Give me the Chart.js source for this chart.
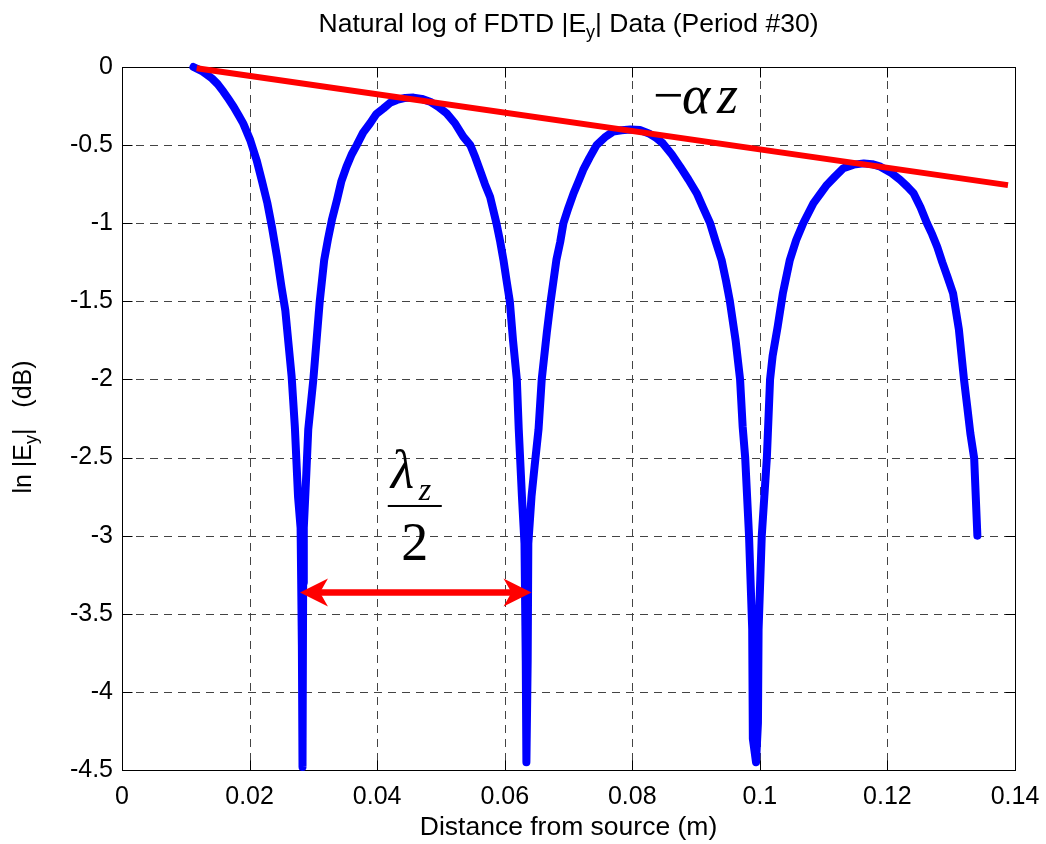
<!DOCTYPE html>
<html><head><meta charset="utf-8">
<script src="https://cdn.jsdelivr.net/npm/chart.js@4.4.1/dist/chart.umd.min.js"></script>
<style>html,body{margin:0;padding:0;background:#fff}#wrap{width:1046px;height:844px;position:relative}</style>
</head><body><div id="wrap"><canvas id="c" width="1046" height="844"></canvas></div>
<script>
// ---- data ----
const xTicks = [0, 0.02, 0.04, 0.06, 0.08, 0.1, 0.12, 0.14];
const xTickLabels = ['0', '0.02', '0.04', '0.06', '0.08', '0.1', '0.12', '0.14'];
const yTicks = [0, -0.5, -1, -1.5, -2, -2.5, -3, -3.5, -4, -4.5];
const yTickLabels = ['0', '-0.5', '-1', '-1.5', '-2', '-2.5', '-3', '-3.5', '-4', '-4.5'];

const distance = [
0.0112,0.0127,0.0141,0.0150,0.0159,0.0167,0.0175,0.0183,0.0190,0.0201,
0.0211,0.0219,0.0228,0.0235,0.0243,0.0250,0.0256,0.0261,0.0266,0.0271,
0.0276,0.0280,0.0282,0.0283,0.0284,0.0285,0.0289,0.0292,0.0300,0.0305,
0.0310,0.0317,0.0323,0.0329,0.0337,0.0344,0.0352,0.0360,0.0368,0.0378,
0.0389,0.0399,0.0410,0.0420,0.0431,0.0444,0.0457,0.0470,0.0483,0.0496,
0.0509,0.0522,0.0535,0.0546,0.0554,0.0561,0.0569,0.0577,0.0587,0.0593,
0.0598,0.0603,0.0608,0.0613,0.0619,0.0622,0.0627,0.0631,0.0633,0.0634,
0.0636,0.0637,0.0642,0.0647,0.0653,0.0658,0.0666,0.0672,0.0681,0.0687,
0.0692,0.0700,0.0708,0.0716,0.0723,0.0733,0.0744,0.0757,0.0770,0.0783,
0.0797,0.0812,0.0826,0.0838,0.0848,0.0862,0.0875,0.0888,0.0901,0.0911,
0.0922,0.0931,0.0940,0.0947,0.0953,0.0962,0.0969,0.0973,0.0977,0.0983,
0.0988,0.0989,0.0994,0.0997,0.0998,0.1003,0.1011,0.1016,0.1020,0.1028,
0.1036,0.1047,0.1057,0.1068,0.1084,0.1095,0.1105,0.1118,0.1131,0.1147,
0.1163,0.1176,0.1189,0.1205,0.1220,0.1231,0.1241,0.1252,0.1262,0.1270,
0.1278,0.1286,0.1294,0.1303,0.1312,0.1320,0.1325,0.1330,0.1336,0.1341];

const lnEy = [
0,-0.03,-0.073,-0.11,-0.158,-0.205,-0.254,-0.31,-0.361,-0.468,
-0.596,-0.724,-0.873,-1.023,-1.215,-1.407,-1.557,-1.77,-1.984,-2.304,
-2.75,-2.95,-3.7,-4.48,-3.3,-2.95,-2.6,-2.32,-2.0,-1.75,
-1.5,-1.235,-1.1,-0.98,-0.851,-0.73,-0.638,-0.56,-0.5,-0.42,
-0.36,-0.30,-0.265,-0.23,-0.211,-0.198,-0.196,-0.204,-0.222,-0.255,
-0.297,-0.36,-0.446,-0.5,-0.58,-0.659,-0.75,-0.83,-1.0,-1.12,
-1.235,-1.37,-1.5,-1.75,-2.0,-2.32,-2.75,-3.05,-3.8,-4.45,
-3.8,-3.05,-2.75,-2.55,-2.32,-2.0,-1.7,-1.5,-1.235,-1.12,
-1.0,-0.9,-0.808,-0.73,-0.659,-0.58,-0.5,-0.45,-0.414,-0.405,
-0.40,-0.404,-0.425,-0.455,-0.489,-0.56,-0.638,-0.72,-0.808,-0.9,
-1.0,-1.12,-1.235,-1.37,-1.5,-1.75,-2.0,-2.3,-2.5,-3.0,
-3.6,-4.3,-4.45,-4.2,-3.6,-3.0,-2.5,-2.0,-1.85,-1.66,
-1.45,-1.235,-1.107,-1.0,-0.872,-0.81,-0.755,-0.70,-0.648,-0.625,
-0.617,-0.622,-0.638,-0.675,-0.723,-0.765,-0.808,-0.9,-1.0,-1.07,
-1.15,-1.25,-1.342,-1.45,-1.68,-2.0,-2.17,-2.345,-2.505,-3.0];

// attenuation envelope  -alpha z
const envelopeX = [0.0117, 0.1389];
const envelopeY = [-0.0085, -0.756];
// half-wavelength arrow between two nulls
const halfWaveX = [0.0279, 0.0642];
const halfWaveY = [-3.363, -3.363];

// ---- text / annotation anchors (data coordinates) ----
const alphaAnchor = {x: 0.0834, y: -0.2945};
const lambdaAnchor = {x: 0.0459, y: -2.81};

const SANS = '"Liberation Sans", Arial, Helvetica, sans-serif';
const SERIF = '"Liberation Serif", "Times New Roman", serif';

const toPts = (xs, ys) => xs.map((x, i) => ({x: x, y: ys[i]}));

const frame = {
  id: 'matlabFrame',
  beforeDatasetsDraw(chart) {
    const {ctx, chartArea: a, scales: {x, y}} = chart;
    ctx.save();
    ctx.lineWidth = 1;
    ctx.strokeStyle = '#444';
    ctx.setLineDash([8, 6]);
    xTicks.forEach(v => {
      const px = Math.round(x.getPixelForValue(v)) + 0.5;
      ctx.beginPath(); ctx.moveTo(px, a.top); ctx.lineTo(px, a.bottom); ctx.stroke();
    });
    yTicks.forEach(v => {
      const py = Math.round(y.getPixelForValue(v)) + 0.5;
      ctx.beginPath(); ctx.moveTo(a.left, py); ctx.lineTo(a.right, py); ctx.stroke();
    });
    ctx.setLineDash([]);
    ctx.strokeStyle = '#000';
    const L = Math.round(a.left) + 0.5, R = Math.round(a.right) + 0.5;
    const T = Math.round(a.top) + 0.5, B = Math.round(a.bottom) + 0.5;
    ctx.strokeRect(L, T, R - L, B - T);
    const tl = 10;
    xTicks.forEach(v => {
      const px = Math.round(x.getPixelForValue(v)) + 0.5;
      ctx.beginPath(); ctx.moveTo(px, B); ctx.lineTo(px, B - tl);
      ctx.moveTo(px, T); ctx.lineTo(px, T + tl); ctx.stroke();
    });
    yTicks.forEach(v => {
      const py = Math.round(y.getPixelForValue(v)) + 0.5;
      ctx.beginPath(); ctx.moveTo(L, py); ctx.lineTo(L + tl, py);
      ctx.moveTo(R, py); ctx.lineTo(R - tl, py); ctx.stroke();
    });
    ctx.restore();
  },
  afterDatasetsDraw(chart) {
    const {ctx, chartArea: a, scales: {x, y}} = chart;
    ctx.save();
    // arrow
    const xa = x.getPixelForValue(halfWaveX[0]);
    const xb = x.getPixelForValue(halfWaveX[1]);
    const ya = y.getPixelForValue(halfWaveY[0]);
    const yb = y.getPixelForValue(halfWaveY[1]);
    ctx.strokeStyle = '#ff0000';
    ctx.fillStyle = '#ff0000';
    ctx.lineWidth = 6.5;
    ctx.beginPath(); ctx.moveTo(xa + 18, ya); ctx.lineTo(xb - 18, yb); ctx.stroke();
    const head = (tx, ty, dir) => {
      ctx.beginPath();
      ctx.moveTo(tx, ty);
      ctx.lineTo(tx + dir * 28, ty - 14);
      ctx.lineTo(tx + dir * 20, ty);
      ctx.lineTo(tx + dir * 28, ty + 14);
      ctx.closePath();
      ctx.fill();
    };
    head(xa, ya, 1);
    head(xb, yb, -1);

    // -alpha z
    ctx.fillStyle = '#000';
    ctx.textBaseline = 'alphabetic';
    ctx.textAlign = 'left';
    const ax = x.getPixelForValue(alphaAnchor.x), ay = y.getPixelForValue(alphaAnchor.y);
    ctx.font = '54px ' + SERIF;
    ctx.fillText('\u2212', ax - 1, ay);
    ctx.font = 'italic 54px ' + SERIF;
    ctx.fillText('\u03B1', ax + 28, ay);
    ctx.fillText('z', ax + 63, ay);

    // lambda_z / 2
    const lx = x.getPixelForValue(lambdaAnchor.x), ly = y.getPixelForValue(lambdaAnchor.y);
    ctx.font = 'italic 54px ' + SERIF;
    ctx.fillText('\u03BB', lx - 24, ly - 18);
    ctx.font = 'italic 32px ' + SERIF;
    ctx.fillText('z', lx + 4, ly - 6);
    ctx.fillRect(lx - 27, ly - 1, 54, 2);
    ctx.font = '54px ' + SERIF;
    ctx.textAlign = 'center';
    ctx.fillText('2', lx, ly + 54);
    ctx.restore();
  },
  afterDraw(chart) {
    const {ctx, chartArea: a} = chart;
    const cx = (a.left + a.right) / 2;
    ctx.save();
    ctx.fillStyle = '#000';
    ctx.textBaseline = 'alphabetic';
    ctx.textAlign = 'left';
    // title with subscript
    const big = '26.5px ' + SANS, small = '18px ' + SANS;
    const t1 = 'Natural log of FDTD |E', t2 = 'y', t3 = '| Data (Period #30)';
    ctx.font = big; const w1 = ctx.measureText(t1).width, w3 = ctx.measureText(t3).width;
    ctx.font = small; const w2 = ctx.measureText(t2).width;
    let sx = cx - (w1 + w2 + w3) / 2;
    const tb = 32;
    ctx.font = big; ctx.fillText(t1, sx, tb);
    ctx.font = small; ctx.fillText(t2, sx + w1, tb + 6);
    ctx.font = big; ctx.fillText(t3, sx + w1 + w2, tb);
    // x label
    ctx.font = big;
    ctx.textAlign = 'center';
    ctx.fillText('Distance from source (m)', cx, 835);
    // y label (rotated)
    ctx.textAlign = 'left';
    const yb1 = 'ln |E', yb2 = 'y', yb3 = '|   (dB)';
    const ybig = '25px ' + SANS, ysmall = '18px ' + SANS;
    ctx.font = ybig; const v1 = ctx.measureText(yb1).width, v3 = ctx.measureText(yb3).width;
    ctx.font = ysmall; const v2 = ctx.measureText(yb2).width;
    const total = v1 + v2 + v3;
    ctx.translate(31, 427 + total / 2);
    ctx.rotate(-Math.PI / 2);
    ctx.font = ybig; ctx.fillText(yb1, 0, 0);
    ctx.font = ysmall; ctx.fillText(yb2, v1, 6);
    ctx.font = ybig; ctx.fillText(yb3, v1 + v2, 0);
    ctx.restore();
  }
};

const tickFont = {family: SANS, size: 25};
new Chart(document.getElementById('c'), {
  type: 'scatter',
  data: {
    datasets: [
      {
        label: '-alpha z',
        data: toPts(envelopeX, envelopeY),
        showLine: true,
        borderColor: '#ff0000',
        borderWidth: 6,
        pointRadius: 0,
        clip: false
      },
      {
        label: 'ln|Ey|',
        data: toPts(distance, lnEy),
        showLine: true,
        borderColor: '#0000ff',
        borderWidth: 8,
        borderCapStyle: 'round',
        borderJoinStyle: 'round',
        pointRadius: 0,
        tension: 0,
        clip: false
      }
    ]
  },
  options: {
    responsive: false,
    animation: false,
    devicePixelRatio: 1,
    layout: {padding: {top: 67, right: 31, left: 0, bottom: 0}},
    plugins: {legend: {display: false}, title: {display: false}, tooltip: {enabled: false}},
    scales: {
      x: {
        type: 'linear', min: 0, max: 0.14,
        afterBuildTicks: s => { s.ticks = xTicks.map(v => ({value: v})); },
        afterFit: s => { s.height = 74; s.paddingLeft = 0; s.paddingRight = 0; },
        grid: {display: false, drawTicks: false},
        border: {display: false},
        ticks: {
          font: tickFont, color: '#000', padding: 12, maxRotation: 0, autoSkip: false,
          callback: v => { const i = xTicks.findIndex(t => Math.abs(t - v) < 1e-9); return i >= 0 ? xTickLabels[i] : ''; }
        }
      },
      y: {
        type: 'linear', min: -4.5, max: 0,
        afterBuildTicks: s => { s.ticks = yTicks.slice().reverse().map(v => ({value: v})); },
        afterFit: s => { s.width = 122; s.paddingTop = 0; s.paddingBottom = 0; },
        grid: {display: false, drawTicks: false},
        border: {display: false},
        ticks: {
          font: tickFont, color: '#000', padding: 9, autoSkip: false,
          callback: v => { const i = yTicks.findIndex(t => Math.abs(t - v) < 1e-9); return i >= 0 ? yTickLabels[i] : ''; }
        }
      }
    }
  },
  plugins: [frame]
});
</script>
</body></html>
